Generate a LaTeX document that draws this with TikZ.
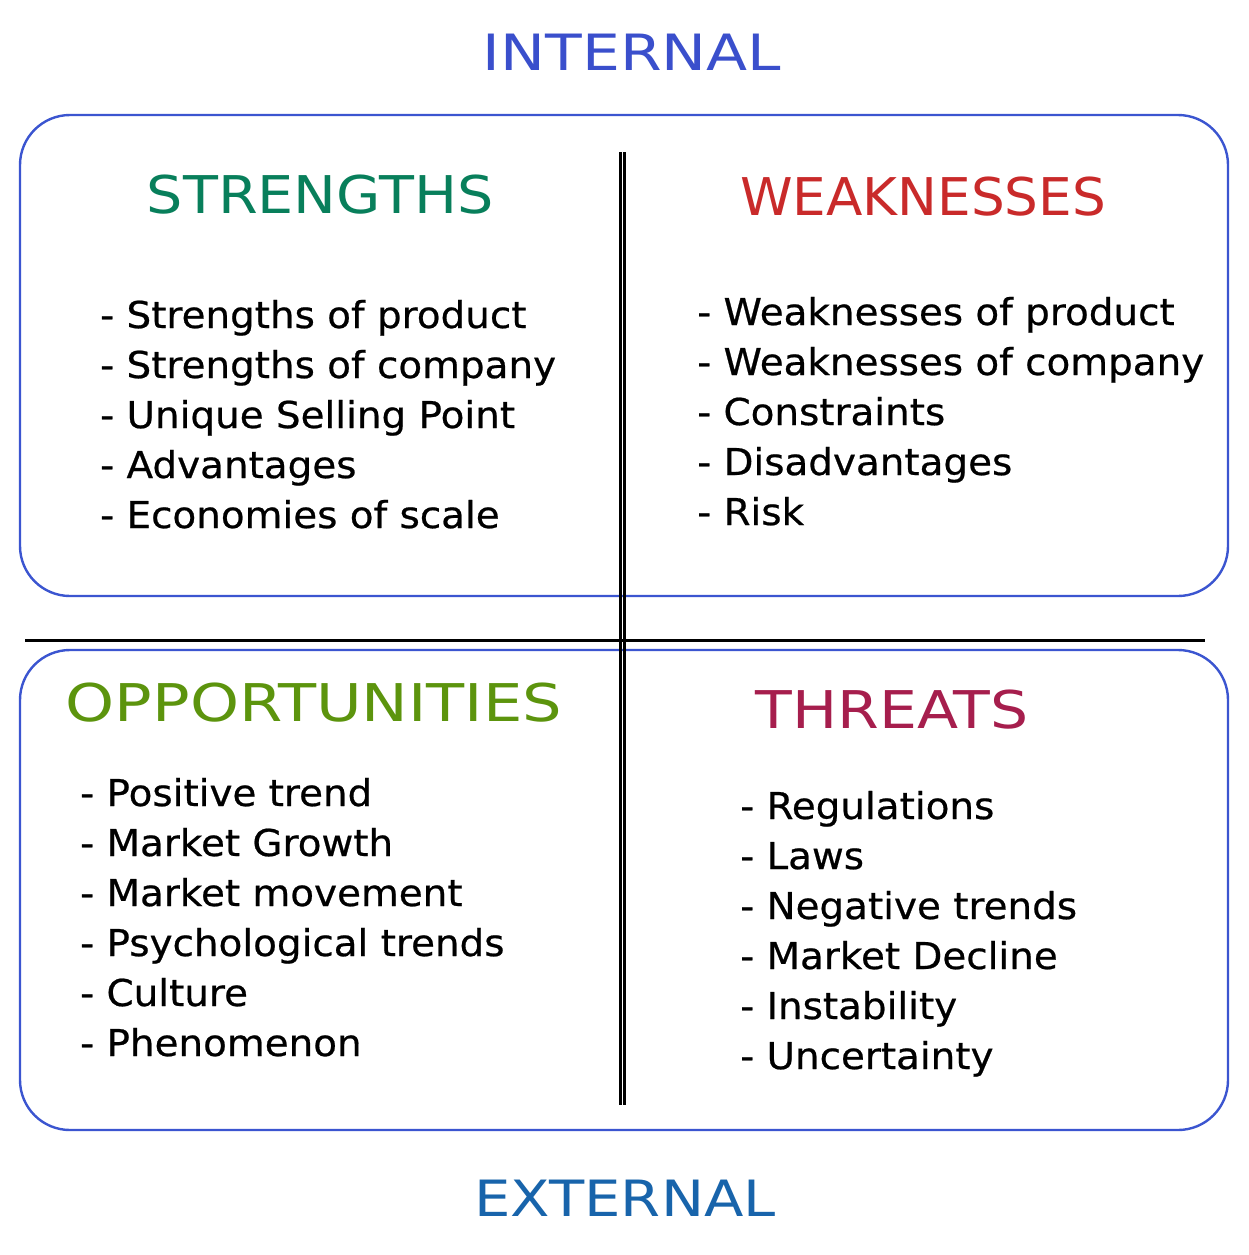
\documentclass[tikz,border=0pt]{standalone}
\usepackage{fontspec}
\setmainfont{DejaVu Sans}
\newfontfamily\titlefont[FakeStretch=1.1]{DejaVu Sans}
\newfontfamily\axisfont[FakeStretch=1.2]{DejaVu Sans}
\newfontfamily\itemfont[FakeStretch=1.05,FakeBold=0.6]{DejaVu Sans}
\definecolor{boxblue}{HTML}{3B55D0}
\definecolor{intblue}{HTML}{3A4FCC}
\definecolor{extblue}{HTML}{1864AB}
\definecolor{sgreen}{HTML}{087F5B}
\definecolor{wred}{HTML}{C92A2A}
\definecolor{ogreen}{HTML}{5C940D}
\definecolor{tred}{HTML}{A61E4D}
\begin{document}
\begin{tikzpicture}[x=1pt,y=-1pt,
  quad/.style={draw=boxblue,line width=2.4pt,rounded corners=50pt},
  title/.style={font=\titlefont\fontsize{52}{60}\selectfont,inner sep=0pt,transform shape},
  axis/.style={font=\axisfont\fontsize{50}{58}\selectfont,inner sep=0pt,transform shape},
  item/.style={font=\itemfont\fontsize{37}{50}\selectfont,anchor=base west,inner sep=0pt},
  divider/.style={draw=black,line width=2.4pt}]
\useasboundingbox (0,0) rectangle (1248,1255);
\fill[white] (0,0) rectangle (1248,1255);
% boxes
\draw[quad] (20,115) rectangle (1228,596);
\draw[quad] (20,650) rectangle (1228,1130);
% dividers
\coordinate (vt1) at (620.3,152); \coordinate (vb1) at (620.3,1105);
\coordinate (vt2) at (624.3,152); \coordinate (vb2) at (624.3,1105);
\draw[divider] (vt1) -- (vb1);
\draw[divider] (vt2) -- (vb2);
\coordinate (hl) at (25,640.5); \coordinate (hr) at (1205,640.5);
\draw[draw=black,line width=3pt] (hl) -- (hr);
% axis labels
\node[axis,text=intblue] (internal) at (632,52) {INTERNAL};
\node[axis,text=extblue,xscale=0.96] (external) at (625,1198) {EXTERNAL};
% titles
\node[title,text=sgreen] (strengths) at (320,195) {STRENGTHS};
\node[title,text=wred,xscale=0.93] (weaknesses) at (923,197) {WEAKNESSES};
\node[title,text=ogreen,xscale=1.09] (opportunities) at (314,703) {OPPORTUNITIES};
\node[title,text=tred,xscale=1.05] (threats) at (892,710) {THREATS};
% lists
\foreach \t [count=\i] in {Strengths of product,Strengths of company,Unique Selling Point,Advantages,Economies of scale}
  \node[item] (s\i) at (100,{328+50*(\i-1)}) {- \t};
\foreach \t [count=\i] in {Weaknesses of product,Weaknesses of company,Constraints,Disadvantages,Risk}
  \node[item] (w\i) at (697,{325+50*(\i-1)}) {- \t};
\foreach \t [count=\i] in {Positive trend,Market Growth,Market movement,Psychological trends,Culture,Phenomenon}
  \node[item] (o\i) at (80,{806+50*(\i-1)}) {- \t};
\foreach \t [count=\i] in {Regulations,Laws,Negative trends,Market Decline,Instability,Uncertainty}
  \node[item] (t\i) at (740,{819+50*(\i-1)}) {- \t};
\end{tikzpicture}
\end{document}
